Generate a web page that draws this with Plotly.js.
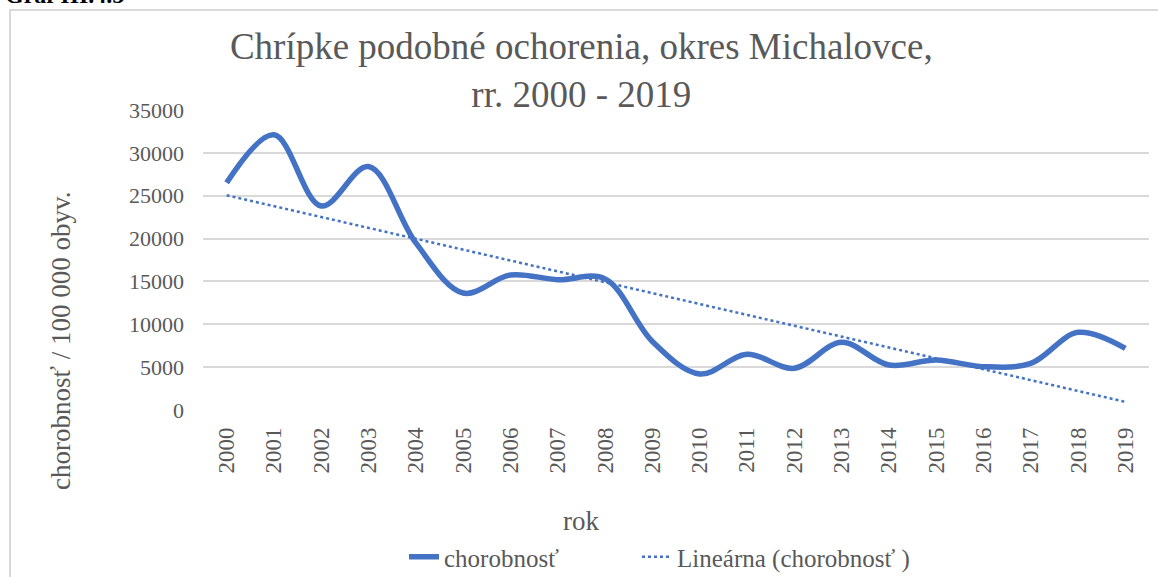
<!DOCTYPE html>
<html>
<head>
<meta charset="utf-8">
<script src="https://cdn.plot.ly/plotly-3.0.1.min.js"></script>
<style>
  html, body { margin: 0; padding: 0; background: #ffffff; }
  #chart { width: 1158px; height: 577px; }
</style>
</head>
<body>
<div id="chart"></div>
<script>
const years = ["2000","2001","2002","2003","2004","2005","2006","2007","2008","2009",
               "2010","2011","2012","2013","2014","2015","2016","2017","2018","2019"];
const chorobnost = [26500, 32100, 23800, 28400, 19500, 13650, 15750, 15200, 15300, 8000,
                    4200, 6500, 4860, 7900, 5250, 5830, 5060, 5440, 9060, 7200];
const trendYears = ["2000", "2019"];
const trendValues = [25050, 950];
const yTicks = [0, 5000, 10000, 15000, 20000, 25000, 30000, 35000];

const serif = "'Liberation Serif', 'Times New Roman', Times, 'DejaVu Serif', serif";
const grey = "#595959";
const blue = "#4472C4";

// plot area in pixels: x 203..1149, y 110..410
const px = (p) => (p - 203) / 946;
const py = (p) => (410 - p) / 300;

const traces = [
  {
    x: years, y: chorobnost, type: "scatter", mode: "lines",
    name: "chorobnosť", legend: "legend",
    line: { color: blue, width: 5.5, shape: "spline", smoothing: 1 }
  },
  {
    x: trendYears, y: trendValues, type: "scatter", mode: "lines",
    name: "Lineárna (chorobnosť )", legend: "legend2",
    line: { color: blue, width: 2.5, dash: "dot" }
  }
];

const legendFont = { family: serif, size: 25, color: grey };

const layout = {
  width: 1158, height: 577,
  paper_bgcolor: "#ffffff", plot_bgcolor: "#ffffff",
  margin: { l: 203, r: 9, t: 110, b: 167, autoexpand: false },
  font: { family: serif, color: grey, size: 22 },
  title: {
    text: "Chrípke podobné ochorenia, okres Michalovce,<br>rr. 2000 - 2019",
    font: { family: serif, size: 37, color: grey },
    xref: "container", x: 0.502, xanchor: "center",
    yref: "container", y: 1 - 59 / 577, yanchor: "top"
  },
  xaxis: {
    type: "category",
    categoryorder: "array", categoryarray: years,
    range: [-0.5, 19.5],
    automargin: false,
    showgrid: false, zeroline: false, showline: false,
    ticks: "", tickangle: -90,
    ticklabelstandoff: 12,
    tickfont: { family: serif, size: 23, color: grey }
  },
  yaxis: {
    range: [0, 35000],
    automargin: false,
    tickmode: "array", tickvals: yTicks, ticktext: yTicks.map(String),
    showgrid: true, gridcolor: "#d9d9d9", gridwidth: 2,
    zeroline: false, showline: false, ticks: "",
    ticklabelstandoff: 18,
    tickfont: { family: serif, size: 22, color: grey }
  },
  showlegend: true,
  legend: {
    orientation: "h", x: px(404), xanchor: "left",
    y: py(557), yanchor: "middle",
    font: legendFont, bgcolor: "rgba(0,0,0,0)"
  },
  legend2: {
    orientation: "h", x: px(637), xanchor: "left",
    y: py(557), yanchor: "middle",
    font: legendFont, bgcolor: "rgba(0,0,0,0)"
  },
  shapes: [
    {
      type: "rect", xref: "paper", yref: "paper",
      x0: px(10), x1: px(1175),
      y0: py(600), y1: py(10),
      line: { color: "#d9d9d9", width: 2 }, fillcolor: "rgba(0,0,0,0)", layer: "below"
    }
  ],
  annotations: [
    {
      text: "<b>Graf III.4.5</b>", xref: "paper", yref: "paper",
      x: px(3), xanchor: "left",
      y: py(10), yanchor: "bottom",
      showarrow: false,
      font: { family: serif, size: 24, color: "#000000" }
    },
    {
      text: "chorobnosť / 100 000 obyv.", xref: "paper", yref: "paper",
      x: px(61), xanchor: "center", y: py(341), yanchor: "middle",
      textangle: -90, showarrow: false,
      font: { family: serif, size: 27, color: grey }
    },
    {
      text: "rok", xref: "paper", yref: "paper",
      x: px(581), xanchor: "center", y: py(521), yanchor: "middle",
      showarrow: false,
      font: { family: serif, size: 27, color: grey }
    }
  ]
};

Plotly.newPlot("chart", traces, layout, { displayModeBar: false, staticPlot: true });
</script>
</body>
</html>
